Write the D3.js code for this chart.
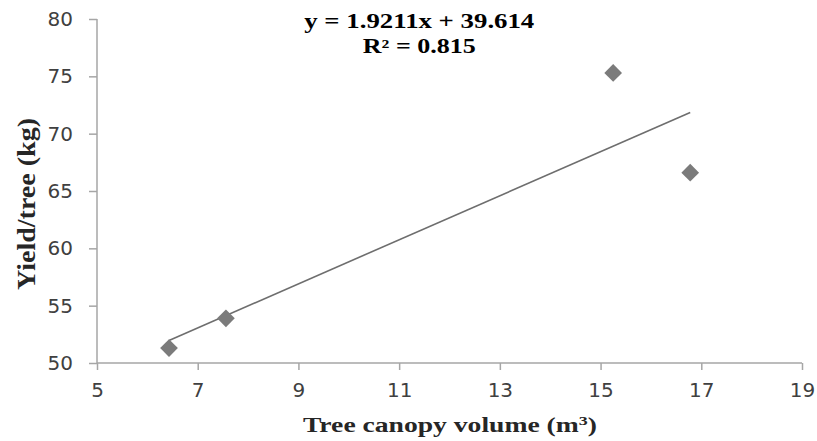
<!DOCTYPE html>
<html>
<head>
<meta charset="utf-8">
<script src="https://cdn.jsdelivr.net/npm/d3@7"></script>
<style>
  body { margin: 0; background: #fff; }
  .tick text { font-family: 'DejaVu Sans', sans-serif; fill: #404040; }
</style>
</head>
<body>
<div id="chart"></div>
<script>
const canopyVolume = [6.43, 7.56, 15.25, 16.78]
const yieldPerTree = [51.3, 53.9, 75.3, 66.6]
const xTicks = [5, 7, 9, 11, 13, 15, 17, 19]
const yTicks = [50, 55, 60, 65, 70, 75, 80]
const slope = 1.9211
const intercept = 39.614
const rSquared = 0.815

const margin = { top: 19, left: 97, right: 15, bottom: 78 }
const width = 817 - margin.left - margin.right
const height = 441 - margin.top - margin.bottom

const svg = d3
  .select('#chart')
  .append('svg')
  .attr('width', 817)
  .attr('height', 441)
  .append('g')
  .attr('transform', 'translate(' + margin.left + ',' + margin.top + ')')

const xPositionScale = d3.scaleLinear().domain([5, 19]).range([0, width])
const yPositionScale = d3.scaleLinear().domain([50, 80]).range([height, 0])

const xAxis = d3
  .axisBottom(xPositionScale)
  .tickValues(xTicks)
  .tickSize(7)
  .tickPadding(13)
  .tickFormat(d3.format('d'))

const yAxis = d3
  .axisLeft(yPositionScale)
  .tickValues(yTicks)
  .tickSize(8)
  .tickPadding(16)
  .tickFormat(d3.format('d'))

svg
  .append('g')
  .attr('class', 'x axis')
  .attr('transform', 'translate(0,' + height + ')')
  .call(xAxis)

svg
  .append('g')
  .attr('class', 'y axis')
  .call(yAxis)

svg.selectAll('.axis .domain').attr('stroke', '#a6a6a6').attr('stroke-width', 1.5)
svg.selectAll('.axis .tick line').attr('stroke', '#a6a6a6').attr('stroke-width', 1.5)
svg.selectAll('.axis .tick text').style('font-size', '20px')
// plain domain lines, the corner ticks come from the tick marks
svg.select('.x.axis .domain').attr('d', 'M0,0H' + width)
svg.select('.y.axis .domain').attr('d', 'M0,0V' + height)

// trend line over the range of the data
const xMin = d3.min(canopyVolume)
const xMax = d3.max(canopyVolume)
svg
  .append('line')
  .attr('x1', xPositionScale(xMin))
  .attr('y1', yPositionScale(slope * xMin + intercept))
  .attr('x2', xPositionScale(xMax))
  .attr('y2', yPositionScale(slope * xMax + intercept))
  .attr('stroke', '#6e6e6e')
  .attr('stroke-width', 1.6)

const points = canopyVolume.map((x, i) => ({ x: x, y: yieldPerTree[i] }))

svg
  .selectAll('.point')
  .data(points)
  .enter()
  .append('path')
  .attr('class', 'point')
  .attr('d', d3.symbol().type(d3.symbolDiamond2).size(200))
  .attr('transform', d => 'translate(' + xPositionScale(d.x) + ',' + yPositionScale(d.y) + ')')
  .attr('fill', '#7b7b7b')

// the source picture is stretched, so text is fitted with textLength
const serifBold = sel =>
  sel
    .style('font-family', "'Liberation Serif', serif")
    .style('font-weight', 'bold')
    .style('font-size', '20px')
    .attr('lengthAdjust', 'spacingAndGlyphs')

svg
  .append('text')
  .call(serifBold)
  .attr('x', xPositionScale(11.4))
  .attr('y', 9)
  .attr('textLength', 230)
  .style('text-anchor', 'middle')
  .text('y = ' + slope + 'x + ' + intercept)

svg
  .append('text')
  .call(serifBold)
  .attr('x', xPositionScale(11.4))
  .attr('y', 34)
  .attr('textLength', 113)
  .style('text-anchor', 'middle')
  .text('R² = ' + rSquared)

svg
  .append('text')
  .call(serifBold)
  .attr('x', 450 - margin.left)
  .attr('y', height + 69)
  .attr('textLength', 294)
  .style('text-anchor', 'middle')
  .style('fill', '#262626')
  .html('Tree canopy volume (m<tspan baseline-shift="super" font-size="13px">3</tspan>)')

svg
  .append('text')
  .call(serifBold)
  .attr('transform', 'translate(-62,' + (204 - margin.top) + ') rotate(-90)')
  .attr('textLength', 172)
  .style('font-size', '26px')
  .style('text-anchor', 'middle')
  .style('fill', '#262626')
  .text('Yield/tree (kg)')
</script>
</body>
</html>
